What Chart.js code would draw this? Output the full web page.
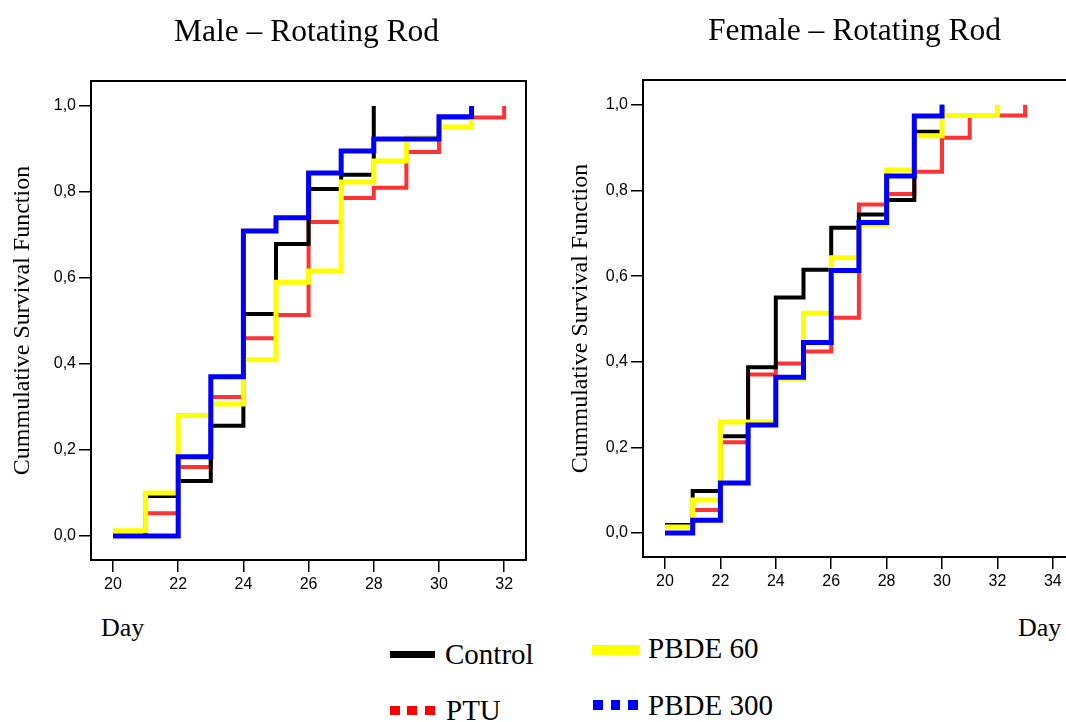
<!DOCTYPE html>
<html>
<head>
<meta charset="utf-8">
<script src="https://cdn.jsdelivr.net/npm/chart.js@4"></script>
<style>
  html, body { margin: 0; padding: 0; background: #fff; overflow: hidden; width: 1066px; height: 722px; }
  .box { position: absolute; }
  .txt { position: absolute; font-family: 'Liberation Serif', 'Times New Roman', serif; color: #000; white-space: nowrap; line-height: 1; }
  .sw { position: absolute; }
</style>
</head>
<body>
<div class="box" style="left:0;top:0;width:545px;height:600px"><canvas id="chart-0"></canvas></div>
<div class="box" style="left:560px;top:0;width:540px;height:597px"><canvas id="chart-1"></canvas></div>

<div class="txt" style="left:174px;top:15px;font-size:31.5px">Male – Rotating Rod</div>
<div class="txt" style="left:708px;top:14px;font-size:31.5px">Female – Rotating Rod</div>
<div class="txt" style="left:101px;top:615px;font-size:26px">Day</div>
<div class="txt" style="left:1018px;top:615px;font-size:26px">Day</div>

<div class="sw" style="left:390px;top:651px;width:45px;height:7px;background:#000"></div>
<div class="txt" style="left:445px;top:640px;font-size:29px">Control</div>
<div class="sw" style="left:592px;top:645px;width:47px;height:10px;background:#ffff00"></div>
<div class="txt" style="left:648px;top:634px;font-size:29px">PBDE 60</div>
<div class="sw" style="left:390px;top:706px;width:45px;height:9px;background:repeating-linear-gradient(90deg,#ff0000 0 10px,transparent 10px 17.5px)"></div>
<div class="txt" style="left:446px;top:696px;font-size:29px">PTU</div>
<div class="sw" style="left:593px;top:700px;width:45px;height:10px;background:repeating-linear-gradient(90deg,#0000ff 0 10px,transparent 10px 17.5px)"></div>
<div class="txt" style="left:648px;top:691px;font-size:29px">PBDE 300</div>

<script>
// male
const maleControlDays = [20, 21, 22, 23, 24, 25, 26, 27, 28]
const maleControl     = [0, 0.093, 0.128, 0.256, 0.516, 0.679, 0.807, 0.84, 1.0]
const malePtuDays = [20, 21, 22, 23, 24, 25, 26, 27, 28, 29, 30, 31, 32]
const malePtu     = [0, 0.053, 0.16, 0.323, 0.46, 0.514, 0.73, 0.786, 0.81, 0.893, 0.973, 0.973, 1.0]
const malePbde60Days = [20, 21, 22, 23, 24, 25, 26, 27, 28, 29, 30, 31]
const malePbde60     = [0.012, 0.1, 0.28, 0.307, 0.41, 0.59, 0.616, 0.823, 0.872, 0.926, 0.951, 0.973]
const malePbde300Days = [20, 21, 22, 23, 24, 25, 26, 27, 28, 29, 30, 31]
const malePbde300     = [0, 0, 0.184, 0.37, 0.709, 0.74, 0.844, 0.895, 0.923, 0.923, 0.975, 1.0]

// female
const femaleControlDays = [20, 21, 22, 23, 24, 25, 26, 27, 28, 29, 30]
const femaleControl     = [0.019, 0.098, 0.226, 0.387, 0.55, 0.615, 0.713, 0.744, 0.778, 0.937, 1.0]
const femalePtuDays = [20, 21, 22, 23, 24, 25, 26, 27, 28, 29, 30, 31, 32, 33]
const femalePtu     = [0, 0.054, 0.212, 0.37, 0.396, 0.424, 0.503, 0.767, 0.792, 0.844, 0.923, 0.975, 0.975, 1.0]
const femalePbde60Days = [20, 21, 22, 23, 24, 25, 26, 27, 28, 29, 30, 31, 32]
const femalePbde60     = [0.014, 0.077, 0.259, 0.259, 0.36, 0.513, 0.643, 0.72, 0.848, 0.928, 0.975, 0.975, 1.0]
const femalePbde300Days = [20, 21, 22, 23, 24, 25, 26, 27, 28, 29, 30]
const femalePbde300     = [0, 0.03, 0.117, 0.252, 0.364, 0.445, 0.613, 0.725, 0.834, 0.974, 1.0]

const yTicks = [0, 0.2, 0.4, 0.6, 0.8, 1.0]
const maleXTicks = [20, 22, 24, 26, 28, 30, 32]
const femaleXTicks = [20, 22, 24, 26, 28, 30, 32, 34]

function pts(days, vals) {
  return days.map((d, i) => ({ x: d, y: vals[i] }))
}

const frame = {
  id: 'frame',
  afterDraw(chart) {
    const { ctx, chartArea: a } = chart
    ctx.save()
    ctx.strokeStyle = '#000'
    ctx.lineWidth = 2
    ctx.strokeRect(a.left, a.top, a.right - a.left, a.bottom - a.top)
    ctx.restore()
  }
}

function createChart(chartIndex, sets, opts) {
  const tickFont = { family: "'Liberation Sans', Arial, sans-serif", size: 16 }
  const line = (label, data, color, width) => ({
    label, data, borderColor: color, borderWidth: width, stepped: true,
    pointRadius: 0, fill: false, tension: 0
  })

  new Chart(document.getElementById(`chart-${chartIndex}`), {
    type: 'line',
    data: {
      datasets: [
        line('PBDE 300', sets[3], '#0000ff', 5),
        line('PBDE 60', sets[2], '#ffff00', 5),
        line('Control', sets[0], '#000000', 4),
        line('PTU', sets[1], '#ff3333', 4)
      ]
    },
    options: {
      animation: false,
      responsive: true,
      maintainAspectRatio: false,
      layout: { padding: opts.padding },
      plugins: { legend: { display: false }, tooltip: { enabled: false } },
      scales: {
        x: {
          type: 'linear',
          min: opts.xMin,
          max: opts.xMax,
          afterBuildTicks: s => { s.ticks = opts.xTicks.map(v => ({ value: v })) },
          afterFit: s => { s.height = 40 },
          grid: { drawOnChartArea: false, drawTicks: true, tickLength: 12, color: '#000', lineWidth: 1.5 },
          border: { display: false },
          ticks: { color: '#000', font: tickFont, padding: 3, maxRotation: 0 }
        },
        y: {
          type: 'linear',
          min: -0.056,
          max: 1.058,
          afterBuildTicks: s => { s.ticks = yTicks.map(v => ({ value: v })) },
          afterFit: s => { s.width = opts.yWidth },
          grid: { drawOnChartArea: false, drawTicks: true, tickLength: 12, color: '#000', lineWidth: 1.5 },
          border: { display: false },
          ticks: { color: '#000', font: tickFont, padding: 3, callback: v => v.toFixed(1).replace('.', ',') },
          title: {
            display: true,
            text: 'Cummulative Survival Function',
            color: '#000',
            font: { family: "'Liberation Serif', 'Times New Roman', serif", size: 24 },
            padding: { top: opts.titlePad, bottom: 0 }
          }
        }
      }
    },
    plugins: [frame]
  })
}

createChart(0, [
  pts(maleControlDays, maleControl),
  pts(malePtuDays, malePtu),
  pts(malePbde60Days, malePbde60),
  pts(malePbde300Days, malePbde300)
], { xMin: 19.325, xMax: 32.67, xTicks: maleXTicks, yWidth: 91, titlePad: 8,
     padding: { left: 0, top: 81, right: 19, bottom: 0 } })

createChart(1, [
  pts(femaleControlDays, femaleControl),
  pts(femalePtuDays, femalePtu),
  pts(femalePbde60Days, femalePbde60),
  pts(femalePbde300Days, femalePbde300)
], { xMin: 19.206, xMax: 34.62, xTicks: femaleXTicks, yWidth: 83, titlePad: 6,
     padding: { left: 0, top: 80, right: 30, bottom: 0 } })
</script>
</body>
</html>
